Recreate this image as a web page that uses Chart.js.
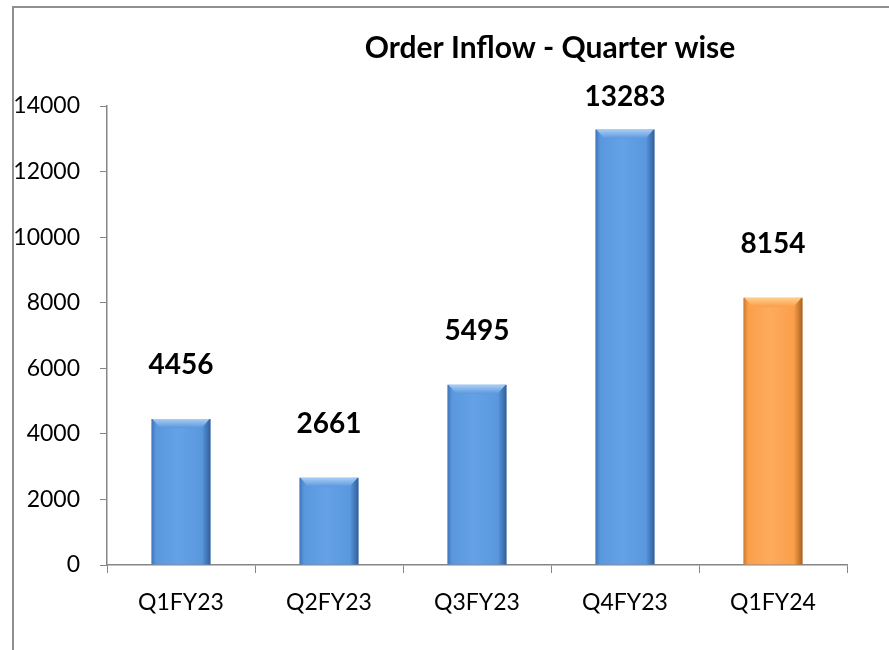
<!DOCTYPE html>
<html>
<head>
<meta charset="utf-8">
<script src="https://cdn.jsdelivr.net/npm/chart.js@4.4.0/dist/chart.umd.min.js"></script>
<style>
    html, body { margin: 0; padding: 0; background: #fff; }
    #wrap { position: relative; width: 889px; height: 650px; overflow: hidden; }
    #frame {
        position: absolute; left: 12px; top: 6px; width: 900px; height: 700px;
        border-left: 2px solid #8f8f8f; border-top: 2px solid #8f8f8f;
    }
    #chart { position: absolute; left: 0; top: 0; }
</style>
</head>
<body>
<div id="wrap">
    <div id="frame"></div>
    <canvas id="chart" width="889" height="650"></canvas>
</div>
<script>
// data
const quarters = ["Q1FY23", "Q2FY23", "Q3FY23", "Q4FY23", "Q1FY24"];
const orderInflow = [4456, 2661, 5495, 13283, 8154];
const yTicks = [0, 2000, 4000, 6000, 8000, 10000, 12000, 14000];
const chartTitle = "Order Inflow - Quarter wise";

const FONT = "Lato, 'Open Sans', sans-serif";

// warna batang: biru, yang terakhir oranye
function barPalette(i) {
    if (i === quarters.length - 1) {
        return { edgeL: "#c9782f", mid: "#fb9f4b", light: "#fdab5c", edgeR: "#a8611f", top: "#fdd08c" };
    }
    return { edgeL: "#3f73b8", mid: "#5a98de", light: "#64a1e6", edgeR: "#2f5e9c", top: "#a9cdf5" };
}

function barFill(context) {
    const chart = context.chart;
    const i = context.dataIndex;
    const p = barPalette(i);
    if (!chart.chartArea) return p.mid;
    const xs = chart.scales.x;
    const cx = xs.getPixelForValue(i);
    const w = (xs.width / quarters.length) * 0.4;
    const g = chart.ctx.createLinearGradient(cx - w / 2, 0, cx + w / 2, 0);
    g.addColorStop(0, p.edgeL);
    g.addColorStop(0.08, p.mid);
    g.addColorStop(0.45, p.light);
    g.addColorStop(0.85, p.mid);
    g.addColorStop(1, p.edgeR);
    return g;
}

// efek bevel di atas batang + label nilai
const barDecor = {
    id: "barDecor",
    afterDatasetsDraw(chart) {
        const ctx = chart.ctx;
        const meta = chart.getDatasetMeta(0);
        meta.data.forEach((bar, i) => {
            const p = barPalette(i);
            const left = bar.x - bar.width / 2;
            const right = bar.x + bar.width / 2;
            const top = bar.y;
            const bev = 9;
            ctx.save();
            const g = ctx.createLinearGradient(0, top, 0, top + bev);
            g.addColorStop(0, p.top);
            g.addColorStop(1, p.mid);
            ctx.fillStyle = g;
            ctx.beginPath();
            ctx.moveTo(left + 1, top);
            ctx.lineTo(right - 1, top);
            ctx.lineTo(right - bev, top + bev);
            ctx.lineTo(left + bev, top + bev);
            ctx.closePath();
            ctx.fill();
            ctx.restore();

            ctx.save();
            ctx.fillStyle = "#000";
            ctx.font = "bold 28px " + FONT;
            ctx.textAlign = "center";
            ctx.textBaseline = "middle";
            const ly = Math.max(bar.y - 54, 97);
            ctx.fillText(String(orderInflow[i]), bar.x, ly);
            ctx.restore();
        });
    }
};

const titleDraw = {
    id: "titleDraw",
    afterDraw(chart) {
        const ctx = chart.ctx;
        ctx.save();
        ctx.fillStyle = "#000";
        ctx.font = "bold 30px " + FONT;
        ctx.textAlign = "center";
        ctx.textBaseline = "middle";
        ctx.fillText(chartTitle, 550, 48);
        ctx.restore();
    }
};

new Chart(document.getElementById("chart").getContext("2d"), {
    type: "bar",
    data: {
        labels: quarters,
        datasets: [{
            data: orderInflow,
            backgroundColor: barFill,
            borderWidth: 0,
            barPercentage: 0.4,
            categoryPercentage: 1.0
        }]
    },
    options: {
        responsive: false,
        animation: false,
        layout: { padding: { top: 106, right: 42, left: 0, bottom: 0 } },
        plugins: {
            legend: { display: false },
            tooltip: { enabled: false },
            title: { display: false }
        },
        scales: {
            x: {
                offset: true,
                grid: { offset: true, drawOnChartArea: false, drawTicks: true, tickLength: 8, color: "#868686" },
                border: { display: true, color: "#868686", width: 1.5 },
                ticks: { color: "#000", padding: 16, font: { family: FONT, size: 23 }, maxRotation: 0 },
                afterFit(scale) { scale.height = 85; }
            },
            y: {
                min: 0,
                max: 14000,
                afterBuildTicks(scale) { scale.ticks = yTicks.map(v => ({ value: v })); },
                grid: { drawOnChartArea: false, drawTicks: true, tickLength: 7, color: "#868686" },
                border: { display: true, color: "#868686", width: 1.5 },
                ticks: {
                    color: "#000", padding: 20, font: { family: FONT, size: 23 },
                    callback: (v) => String(v)
                },
                afterFit(scale) { scale.width = 107; }
            }
        }
    },
    plugins: [barDecor, titleDraw]
});
</script>
</body>
</html>
